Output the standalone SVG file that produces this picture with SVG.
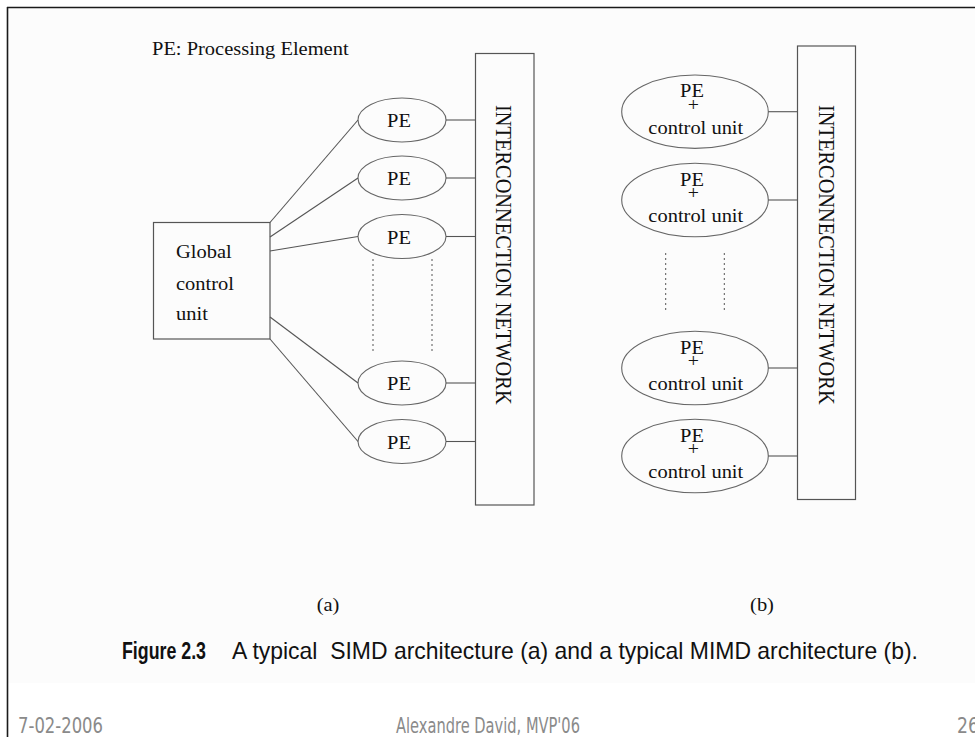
<svg xmlns="http://www.w3.org/2000/svg" width="975" height="737" viewBox="0 0 975 737">
  <style>
    .frame { stroke: #1a1a1a; stroke-width: 1.6; fill: none; }
    .box { fill: none; stroke: #555; stroke-width: 1.2; }
    .pe { fill: none; stroke: #666; stroke-width: 1.1; }
    .wire { fill: none; stroke: #555; stroke-width: 1.1; }
    .dots { fill: none; stroke: #555; stroke-width: 1; stroke-dasharray: 2 3; }
    .serif { font-family: "Liberation Serif", "Times New Roman", serif; font-size: 18.6px; fill: #111; }
    .plus { font-family: "Liberation Serif", "Times New Roman", serif; font-size: 18px; fill: #111; text-anchor: middle; }
    .mid { text-anchor: middle; }
    .rot { font-family: "Liberation Serif", "Times New Roman", serif; font-size: 20.4px; fill: #111; }
    .cap { font-family: "Liberation Sans", Arial, sans-serif; font-size: 24px; fill: #111; }
    .foot { font-family: "DejaVu Sans", Verdana, sans-serif; font-size: 21px; fill: #8a8a8a; }
  </style>

  <!-- slide background and frame -->
  <rect x="0" y="0" width="975" height="737" fill="#ffffff"/>
  <rect x="8" y="8" width="967" height="675" fill="#fcfcfc"/>
  <line class="frame" x1="7" y1="7.5" x2="975" y2="7.5"/>
  <line class="frame" x1="7.5" y1="7" x2="7.5" y2="737"/>

  <text class="serif" transform="translate(152,55) scale(1.1 1)">PE: Processing Element</text>

  <!-- (a) SIMD -->
  <g id="global-control-unit">
    <rect class="box" x="153.5" y="222.5" width="116.5" height="116.5"/>
    <text class="serif" transform="translate(176,258) scale(1.1 1)">Global</text>
    <text class="serif" transform="translate(176,290) scale(1.1 1)">control</text>
    <text class="serif" transform="translate(176,320) scale(1.1 1)">unit</text>
  </g>

  <g id="pe-a1">
    <ellipse class="pe" cx="402" cy="120" rx="44" ry="22"/>
    <text class="serif mid" transform="translate(399,127) scale(1.1 1)">PE</text>
  </g>
  <g id="pe-a2">
    <ellipse class="pe" cx="402" cy="178" rx="44" ry="22"/>
    <text class="serif mid" transform="translate(399,185) scale(1.1 1)">PE</text>
  </g>
  <g id="pe-a3">
    <ellipse class="pe" cx="402" cy="236.5" rx="44" ry="22"/>
    <text class="serif mid" transform="translate(399,243.5) scale(1.1 1)">PE</text>
  </g>
  <g id="pe-a4">
    <ellipse class="pe" cx="402" cy="383" rx="44" ry="22"/>
    <text class="serif mid" transform="translate(399,390) scale(1.1 1)">PE</text>
  </g>
  <g id="pe-a5">
    <ellipse class="pe" cx="402" cy="441.5" rx="44" ry="22"/>
    <text class="serif mid" transform="translate(399,448.5) scale(1.1 1)">PE</text>
  </g>

  <g id="network-a">
    <rect class="box" x="475.5" y="53.5" width="58.5" height="451.5"/>
    <text class="rot" transform="translate(496,105) scale(1.1 1) rotate(90)">INTERCONNECTION NETWORK</text>
  </g>

  <!-- (b) MIMD -->
  <g id="pe-cu-b1">
    <ellipse class="pe" cx="695" cy="111.7" rx="73.3" ry="36.7"/>
    <text class="serif mid" transform="translate(692,97.3) scale(1.1 1)">PE</text>
    <text class="plus" transform="translate(693.3,111) scale(1.1 1)">+</text>
    <text class="serif mid" transform="translate(695.8,134) scale(1.1 1)">control unit</text>
  </g>
  <g id="pe-cu-b2">
    <ellipse class="pe" cx="695" cy="200" rx="73.3" ry="36.7"/>
    <text class="serif mid" transform="translate(692,185.7) scale(1.1 1)">PE</text>
    <text class="plus" transform="translate(693.3,199.3) scale(1.1 1)">+</text>
    <text class="serif mid" transform="translate(695.8,221.7) scale(1.1 1)">control unit</text>
  </g>
  <g id="pe-cu-b3">
    <ellipse class="pe" cx="695" cy="368" rx="73.3" ry="36.7"/>
    <text class="serif mid" transform="translate(692,353.7) scale(1.1 1)">PE</text>
    <text class="plus" transform="translate(693.3,367.3) scale(1.1 1)">+</text>
    <text class="serif mid" transform="translate(695.8,389.7) scale(1.1 1)">control unit</text>
  </g>
  <g id="pe-cu-b4">
    <ellipse class="pe" cx="695" cy="456" rx="73.3" ry="36.7"/>
    <text class="serif mid" transform="translate(692,441.7) scale(1.1 1)">PE</text>
    <text class="plus" transform="translate(693.3,455.3) scale(1.1 1)">+</text>
    <text class="serif mid" transform="translate(695.8,477.7) scale(1.1 1)">control unit</text>
  </g>

  <g id="network-b">
    <rect class="box" x="797.5" y="46" width="58" height="453.5"/>
    <text class="rot" transform="translate(819,105) scale(1.1 1) rotate(90)">INTERCONNECTION NETWORK</text>
  </g>

  <!-- connectors -->
  <g id="connectors">
    <line class="wire" x1="270" y1="222.5" x2="358" y2="120"/>
    <line class="wire" x1="270" y1="237" x2="358" y2="178"/>
    <line class="wire" x1="270" y1="251" x2="358" y2="236.5"/>
    <line class="wire" x1="270" y1="317" x2="358" y2="383"/>
    <line class="wire" x1="270" y1="339" x2="358" y2="441.5"/>

    <line class="wire" x1="446" y1="120" x2="475.5" y2="120"/>
    <line class="wire" x1="446" y1="178" x2="475.5" y2="178"/>
    <line class="wire" x1="446" y1="236.5" x2="475.5" y2="236.5"/>
    <line class="wire" x1="446" y1="383" x2="475.5" y2="383"/>
    <line class="wire" x1="446" y1="441.5" x2="475.5" y2="441.5"/>

    <line class="wire" x1="768.3" y1="111.7" x2="797.5" y2="111.7"/>
    <line class="wire" x1="768.3" y1="200" x2="797.5" y2="200"/>
    <line class="wire" x1="768.3" y1="368" x2="797.5" y2="368"/>
    <line class="wire" x1="768.3" y1="456" x2="797.5" y2="456"/>

    <line class="dots" x1="373" y1="259" x2="373" y2="354"/>
    <line class="dots" x1="432" y1="259" x2="432" y2="354"/>
    <line class="dots" x1="665.7" y1="253" x2="665.7" y2="313"/>
    <line class="dots" x1="724.3" y1="253" x2="724.3" y2="313"/>
  </g>

  <!-- sub-figure labels and caption -->
  <text class="serif mid" transform="translate(328,611) scale(1.1 1)">(a)</text>
  <text class="serif mid" transform="translate(762,611) scale(1.1 1)">(b)</text>

  <text class="cap" x="122" y="659" font-weight="bold" textLength="84" lengthAdjust="spacingAndGlyphs">Figure 2.3</text>
  <text class="cap" x="232" y="659" textLength="686" lengthAdjust="spacingAndGlyphs" xml:space="preserve">A typical  SIMD architecture (a) and a typical MIMD architecture (b).</text>

  <!-- footer -->
  <text class="foot" x="18" y="733" textLength="85" lengthAdjust="spacingAndGlyphs">7-02-2006</text>
  <text class="foot" x="488" y="733" text-anchor="middle" textLength="184" lengthAdjust="spacingAndGlyphs">Alexandre David, MVP'06</text>
  <text class="foot" x="957" y="733" textLength="22" lengthAdjust="spacingAndGlyphs">26</text>
</svg>
